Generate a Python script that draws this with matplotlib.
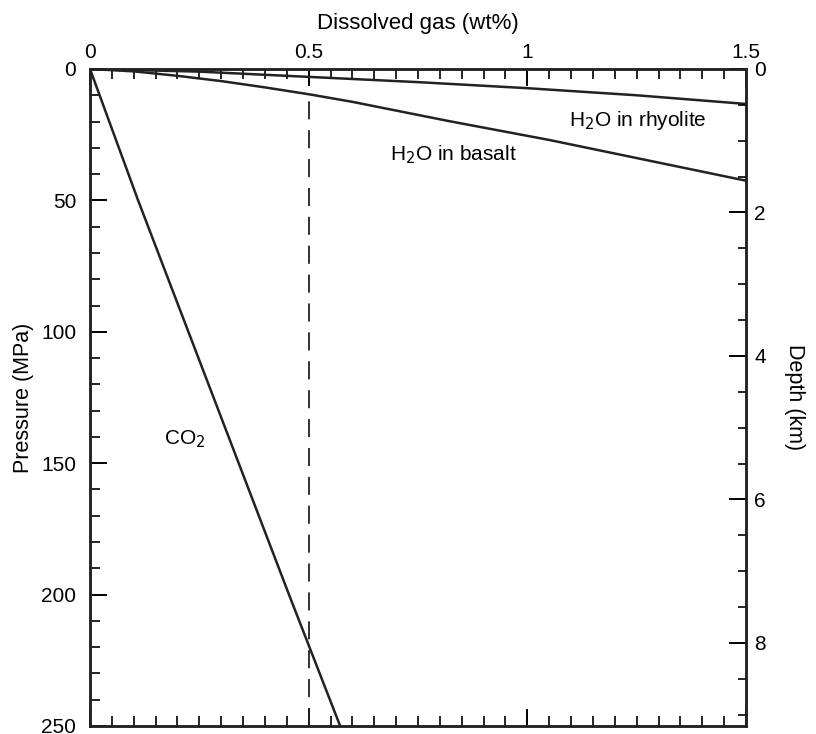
"""
Dissolved gas vs pressure - solubility of H2O and CO2 in magma
"""
import matplotlib
matplotlib.use("Agg")
import matplotlib.pyplot as plt
from matplotlib.ticker import MultipleLocator

plt.rcParams["font.family"] = ["Liberation Sans", "DejaVu Sans"]

# data: dissolved gas (wt%) vs pressure (MPa)
co2_wt = [0.0, 0.11, 0.225, 0.34, 0.455, 0.572]
co2_p = [0, 50, 100, 150, 200, 250]

rhy_wt = [0.0, 0.25, 0.5, 0.75, 1.0, 1.25, 1.5]
rhy_p = [0, 1.0, 3.0, 5.0, 7.3, 10.0, 13.3]

bas_wt = [0.0, 0.1, 0.2, 0.3, 0.4, 0.5, 0.6, 0.82, 1.05, 1.5]
bas_p = [0, 0.9, 2.6, 4.6, 7.0, 9.6, 12.5, 19.8, 27.0, 42.5]

dashed_wt = 0.5
mpa_per_km = 27.3

x_ticks = [0, 0.5, 1, 1.5]
x_ticklabels = ["0", "0.5", "1", "1.5"]
p_ticks = [0, 50, 100, 150, 200, 250]
depth_ticks = [0, 2, 4, 6, 8]

fig = plt.figure(figsize=(8.16, 7.34), dpi=100)
ax = fig.add_axes([0.1103, 0.0109, 0.8039, 0.8951])

lw = 1.8
ax.plot(co2_wt, co2_p, color="#222222", lw=lw)
ax.plot(rhy_wt, rhy_p, color="#222222", lw=lw)
ax.plot(bas_wt, bas_p, color="#222222", lw=lw)
ax.axvline(dashed_wt, ymin=0, ymax=0.965, color="#222222", lw=1.3,
           dashes=(10, 6))

ax.set_xlim(0, 1.5)
ax.set_ylim(250, 0)

ax.xaxis.tick_top()
ax.xaxis.set_label_position("top")
ax.set_xticks(x_ticks)
ax.set_xticklabels(x_ticklabels)
ax.xaxis.set_minor_locator(MultipleLocator(0.05))
ax.set_yticks(p_ticks)
ax.yaxis.set_minor_locator(MultipleLocator(10))

ax.tick_params(axis="x", which="both", top=True, bottom=True, direction="in",
               labeltop=True, labelbottom=False, labelsize=15, pad=5)
ax.tick_params(axis="y", which="both", left=True, right=False, direction="in",
               labelsize=15, pad=10)
ax.tick_params(which="major", length=12, width=1.4)
ax.tick_params(which="minor", length=7, width=1.2)

ax.set_xlabel("Dissolved gas (wt%)", fontsize=16, labelpad=10)
ax.set_ylabel("Pressure (MPa)", fontsize=15.5, labelpad=5)

for s in ax.spines.values():
    s.set_linewidth(1.8)
    s.set_color("#222222")

# depth axis on the right
ax2 = ax.twinx()
ax2.set_ylim(250 / mpa_per_km, 0)
ax2.set_yticks(depth_ticks)
ax2.yaxis.set_minor_locator(MultipleLocator(0.5))
ax2.tick_params(axis="y", which="both", direction="in", labelsize=15, pad=6)
ax2.tick_params(which="major", length=12, width=1.4)
ax2.tick_params(which="minor", length=6, width=1.2)
ax2.set_ylabel("Depth (km)", fontsize=15.5, rotation=-90, labelpad=28)
for s in ax2.spines.values():
    s.set_linewidth(1.8)
    s.set_color("#222222")

ax.text(1.252, 19.6, "H$_2$O in rhyolite", fontsize=15, ha="center", va="center")
ax.text(0.832, 32.7, "H$_2$O in basalt", fontsize=15, ha="center", va="center")
ax.text(0.217, 141, "CO$_2$", fontsize=15, ha="center", va="center")

fig.savefig("out.png", dpi=100)
plt.close(fig)
